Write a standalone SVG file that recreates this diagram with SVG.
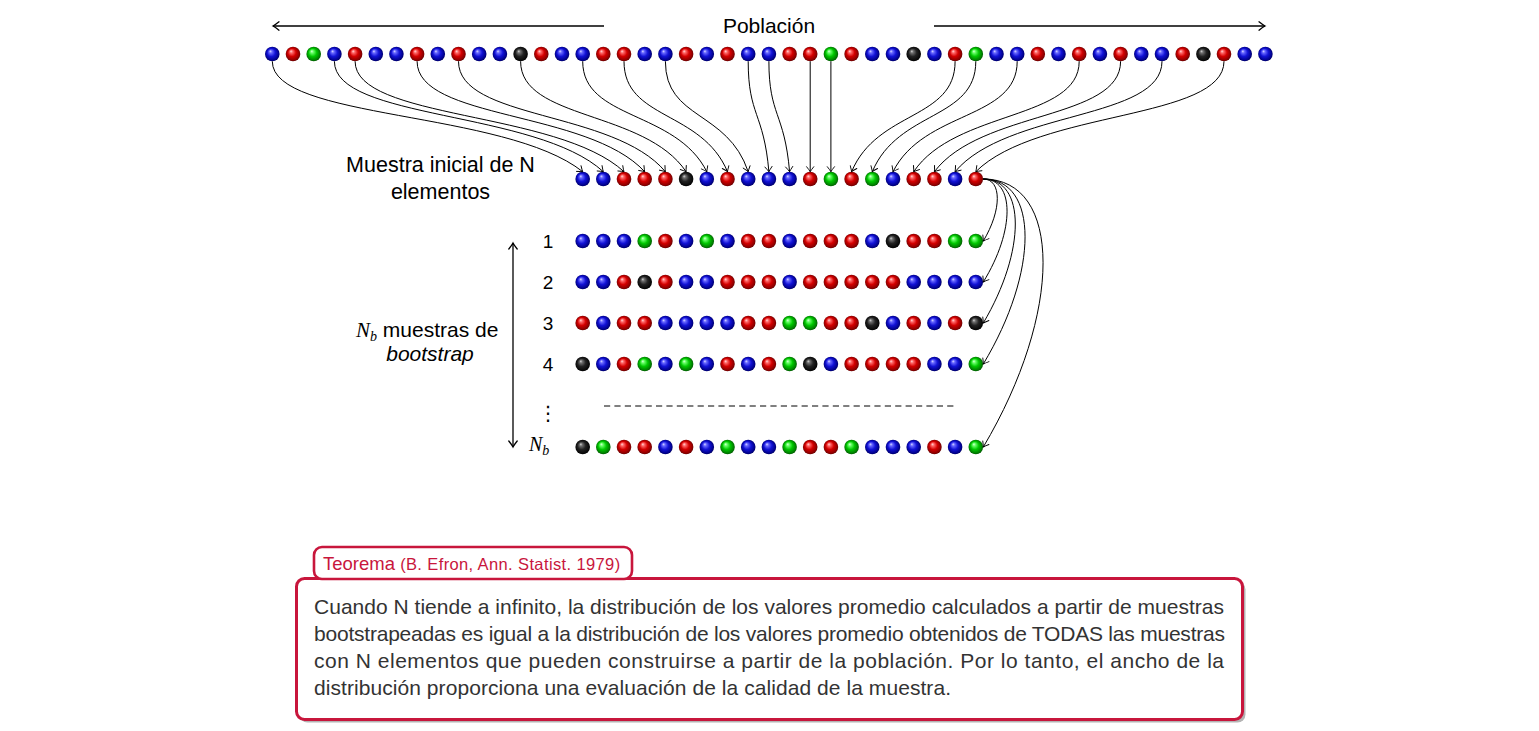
<svg xmlns="http://www.w3.org/2000/svg" width="1539" height="731" viewBox="0 0 1539 731">
<defs>
<radialGradient id="gb" cx="0.5" cy="0.5" r="0.55" fx="0.36" fy="0.3"><stop offset="0" stop-color="#e0e0ff"/><stop offset="0.18" stop-color="#6a6aff"/><stop offset="0.5" stop-color="#1212d6"/><stop offset="0.85" stop-color="#000088"/><stop offset="1" stop-color="#000040"/></radialGradient>
<radialGradient id="gr" cx="0.5" cy="0.5" r="0.55" fx="0.36" fy="0.3"><stop offset="0" stop-color="#ffe0e0"/><stop offset="0.18" stop-color="#ff6a6a"/><stop offset="0.5" stop-color="#d40000"/><stop offset="0.85" stop-color="#880000"/><stop offset="1" stop-color="#400000"/></radialGradient>
<radialGradient id="gg" cx="0.5" cy="0.5" r="0.55" fx="0.36" fy="0.3"><stop offset="0" stop-color="#e0ffe0"/><stop offset="0.18" stop-color="#6aff6a"/><stop offset="0.5" stop-color="#00c800"/><stop offset="0.85" stop-color="#007800"/><stop offset="1" stop-color="#003c00"/></radialGradient>
<radialGradient id="gk" cx="0.5" cy="0.5" r="0.55" fx="0.36" fy="0.3"><stop offset="0" stop-color="#d8d8d8"/><stop offset="0.18" stop-color="#707070"/><stop offset="0.5" stop-color="#222222"/><stop offset="0.85" stop-color="#080808"/><stop offset="1" stop-color="#000000"/></radialGradient>
<marker id="ah" viewBox="-7 -5 8 10" refX="0" refY="0" markerWidth="8" markerHeight="10" markerUnits="userSpaceOnUse" orient="auto-start-reverse" overflow="visible"><path d="M-5,-3.6 Q-1.6,-0.9 0,0 Q-1.6,0.9 -5,3.6" fill="none" stroke="#000" stroke-width="0.9" stroke-linecap="round"/></marker>
<marker id="ahb" viewBox="-8 -6 9 12" refX="0" refY="0" markerWidth="9" markerHeight="12" markerUnits="userSpaceOnUse" orient="auto-start-reverse" overflow="visible"><path d="M-6,-4.2 Q-2,-1 0,0 Q-2,1 -6,4.2" fill="none" stroke="#000" stroke-width="1.3" stroke-linecap="round"/></marker>
<style>
.b{fill:url(#gb)} .r{fill:url(#gr)} .g{fill:url(#gg)} .k{fill:url(#gk)}
.t{font-family:"Liberation Sans",Arial,sans-serif;fill:#000}
.m{font-family:"Liberation Serif","Times New Roman",serif;font-style:italic}
.c{fill:none;stroke:#000;stroke-width:1;marker-end:url(#ah)}
.body{font-family:"Liberation Sans",Arial,sans-serif;font-size:21px;fill:#333}
.red{fill:#c8163c}
</style>
</defs>
<rect width="1539" height="731" fill="#fff"/>

<g id="poblacion-label">
<text class="t" x="769" y="33" font-size="21" text-anchor="middle">Población</text>
<path d="M604,26 L273,26" fill="none" stroke="#000" stroke-width="1.3" marker-end="url(#ahb)"/>
<path d="M934,26 L1265,26" fill="none" stroke="#000" stroke-width="1.3" marker-end="url(#ahb)"/>
</g>

<g id="population">
<circle id="p0" class="b" cx="272.3" cy="54" r="7.3"/>
<circle id="p1" class="r" cx="293.0" cy="54" r="7.3"/>
<circle id="p2" class="g" cx="313.7" cy="54" r="7.3"/>
<circle id="p3" class="b" cx="334.4" cy="54" r="7.3"/>
<circle id="p4" class="r" cx="355.1" cy="54" r="7.3"/>
<circle id="p5" class="b" cx="375.8" cy="54" r="7.3"/>
<circle id="p6" class="b" cx="396.4" cy="54" r="7.3"/>
<circle id="p7" class="r" cx="417.1" cy="54" r="7.3"/>
<circle id="p8" class="b" cx="437.8" cy="54" r="7.3"/>
<circle id="p9" class="r" cx="458.5" cy="54" r="7.3"/>
<circle id="p10" class="b" cx="479.2" cy="54" r="7.3"/>
<circle id="p11" class="b" cx="499.9" cy="54" r="7.3"/>
<circle id="p12" class="k" cx="520.6" cy="54" r="7.3"/>
<circle id="p13" class="r" cx="541.3" cy="54" r="7.3"/>
<circle id="p14" class="b" cx="562.0" cy="54" r="7.3"/>
<circle id="p15" class="b" cx="582.7" cy="54" r="7.3"/>
<circle id="p16" class="r" cx="603.3" cy="54" r="7.3"/>
<circle id="p17" class="r" cx="624.0" cy="54" r="7.3"/>
<circle id="p18" class="b" cx="644.7" cy="54" r="7.3"/>
<circle id="p19" class="b" cx="665.4" cy="54" r="7.3"/>
<circle id="p20" class="r" cx="686.1" cy="54" r="7.3"/>
<circle id="p21" class="b" cx="706.8" cy="54" r="7.3"/>
<circle id="p22" class="r" cx="727.5" cy="54" r="7.3"/>
<circle id="p23" class="b" cx="748.2" cy="54" r="7.3"/>
<circle id="p24" class="b" cx="768.9" cy="54" r="7.3"/>
<circle id="p25" class="r" cx="789.6" cy="54" r="7.3"/>
<circle id="p26" class="r" cx="810.2" cy="54" r="7.3"/>
<circle id="p27" class="g" cx="830.9" cy="54" r="7.3"/>
<circle id="p28" class="r" cx="851.6" cy="54" r="7.3"/>
<circle id="p29" class="b" cx="872.3" cy="54" r="7.3"/>
<circle id="p30" class="b" cx="893.0" cy="54" r="7.3"/>
<circle id="p31" class="k" cx="913.7" cy="54" r="7.3"/>
<circle id="p32" class="b" cx="934.4" cy="54" r="7.3"/>
<circle id="p33" class="r" cx="955.1" cy="54" r="7.3"/>
<circle id="p34" class="g" cx="975.8" cy="54" r="7.3"/>
<circle id="p35" class="b" cx="996.5" cy="54" r="7.3"/>
<circle id="p36" class="b" cx="1017.2" cy="54" r="7.3"/>
<circle id="p37" class="r" cx="1037.8" cy="54" r="7.3"/>
<circle id="p38" class="b" cx="1058.5" cy="54" r="7.3"/>
<circle id="p39" class="r" cx="1079.2" cy="54" r="7.3"/>
<circle id="p40" class="b" cx="1099.9" cy="54" r="7.3"/>
<circle id="p41" class="r" cx="1120.6" cy="54" r="7.3"/>
<circle id="p42" class="b" cx="1141.3" cy="54" r="7.3"/>
<circle id="p43" class="b" cx="1162.0" cy="54" r="7.3"/>
<circle id="p44" class="r" cx="1182.7" cy="54" r="7.3"/>
<circle id="p45" class="k" cx="1203.4" cy="54" r="7.3"/>
<circle id="p46" class="r" cx="1224.0" cy="54" r="7.3"/>
<circle id="p47" class="b" cx="1244.7" cy="54" r="7.3"/>
<circle id="p48" class="b" cx="1265.4" cy="54" r="7.3"/>
</g>

<g id="sample">
<text class="t" x="440.5" y="172" font-size="21.5" text-anchor="middle">Muestra inicial de N</text>
<text class="t" x="440.5" y="199" font-size="21.5" text-anchor="middle">elementos</text>
<circle id="s0" class="b" cx="582.7" cy="179" r="7.3"/>
<circle id="s1" class="b" cx="603.3" cy="179" r="7.3"/>
<circle id="s2" class="r" cx="624.0" cy="179" r="7.3"/>
<circle id="s3" class="r" cx="644.7" cy="179" r="7.3"/>
<circle id="s4" class="r" cx="665.4" cy="179" r="7.3"/>
<circle id="s5" class="k" cx="686.1" cy="179" r="7.3"/>
<circle id="s6" class="b" cx="706.8" cy="179" r="7.3"/>
<circle id="s7" class="r" cx="727.5" cy="179" r="7.3"/>
<circle id="s8" class="b" cx="748.2" cy="179" r="7.3"/>
<circle id="s9" class="b" cx="768.9" cy="179" r="7.3"/>
<circle id="s10" class="b" cx="789.6" cy="179" r="7.3"/>
<circle id="s11" class="r" cx="810.2" cy="179" r="7.3"/>
<circle id="s12" class="g" cx="830.9" cy="179" r="7.3"/>
<circle id="s13" class="r" cx="851.6" cy="179" r="7.3"/>
<circle id="s14" class="g" cx="872.3" cy="179" r="7.3"/>
<circle id="s15" class="b" cx="893.0" cy="179" r="7.3"/>
<circle id="s16" class="r" cx="913.7" cy="179" r="7.3"/>
<circle id="s17" class="r" cx="934.4" cy="179" r="7.3"/>
<circle id="s18" class="b" cx="955.1" cy="179" r="7.3"/>
<circle id="s19" class="r" cx="975.8" cy="179" r="7.3"/>
</g>

<g id="bootstrap-label">
<text class="t" x="356" y="337" font-size="21"><tspan class="m">N</tspan><tspan class="m" font-size="14" dy="4">b</tspan><tspan dy="-4"> muestras de</tspan></text>
<text class="t" x="430" y="361" font-size="21" font-style="italic" text-anchor="middle">bootstrap</text>
<path d="M513,243 L513,447" fill="none" stroke="#000" stroke-width="1.3" marker-start="url(#ahb)" marker-end="url(#ahb)"/>
</g>

<g id="row1">
<text class="t" x="548" y="248" font-size="19" text-anchor="middle">1</text>
<circle class="b" cx="582.7" cy="241" r="7.3"/><circle class="b" cx="603.3" cy="241" r="7.3"/><circle class="b" cx="624.0" cy="241" r="7.3"/><circle class="g" cx="644.7" cy="241" r="7.3"/><circle class="r" cx="665.4" cy="241" r="7.3"/><circle class="b" cx="686.1" cy="241" r="7.3"/><circle class="g" cx="706.8" cy="241" r="7.3"/><circle class="b" cx="727.5" cy="241" r="7.3"/><circle class="r" cx="748.2" cy="241" r="7.3"/><circle class="r" cx="768.9" cy="241" r="7.3"/><circle class="b" cx="789.6" cy="241" r="7.3"/><circle class="r" cx="810.2" cy="241" r="7.3"/><circle class="r" cx="830.9" cy="241" r="7.3"/><circle class="r" cx="851.6" cy="241" r="7.3"/><circle class="b" cx="872.3" cy="241" r="7.3"/><circle class="k" cx="893.0" cy="241" r="7.3"/><circle class="r" cx="913.7" cy="241" r="7.3"/><circle class="r" cx="934.4" cy="241" r="7.3"/><circle class="g" cx="955.1" cy="241" r="7.3"/><circle class="g" cx="975.8" cy="241" r="7.3"/>
</g>
<g id="row2">
<text class="t" x="548" y="289" font-size="19" text-anchor="middle">2</text>
<circle class="b" cx="582.7" cy="282" r="7.3"/><circle class="b" cx="603.3" cy="282" r="7.3"/><circle class="r" cx="624.0" cy="282" r="7.3"/><circle class="k" cx="644.7" cy="282" r="7.3"/><circle class="r" cx="665.4" cy="282" r="7.3"/><circle class="b" cx="686.1" cy="282" r="7.3"/><circle class="b" cx="706.8" cy="282" r="7.3"/><circle class="r" cx="727.5" cy="282" r="7.3"/><circle class="r" cx="748.2" cy="282" r="7.3"/><circle class="r" cx="768.9" cy="282" r="7.3"/><circle class="b" cx="789.6" cy="282" r="7.3"/><circle class="r" cx="810.2" cy="282" r="7.3"/><circle class="r" cx="830.9" cy="282" r="7.3"/><circle class="r" cx="851.6" cy="282" r="7.3"/><circle class="r" cx="872.3" cy="282" r="7.3"/><circle class="r" cx="893.0" cy="282" r="7.3"/><circle class="b" cx="913.7" cy="282" r="7.3"/><circle class="b" cx="934.4" cy="282" r="7.3"/><circle class="b" cx="955.1" cy="282" r="7.3"/><circle class="b" cx="975.8" cy="282" r="7.3"/>
</g>
<g id="row3">
<text class="t" x="548" y="330" font-size="19" text-anchor="middle">3</text>
<circle class="r" cx="582.7" cy="323" r="7.3"/><circle class="b" cx="603.3" cy="323" r="7.3"/><circle class="r" cx="624.0" cy="323" r="7.3"/><circle class="r" cx="644.7" cy="323" r="7.3"/><circle class="b" cx="665.4" cy="323" r="7.3"/><circle class="b" cx="686.1" cy="323" r="7.3"/><circle class="b" cx="706.8" cy="323" r="7.3"/><circle class="b" cx="727.5" cy="323" r="7.3"/><circle class="r" cx="748.2" cy="323" r="7.3"/><circle class="r" cx="768.9" cy="323" r="7.3"/><circle class="g" cx="789.6" cy="323" r="7.3"/><circle class="g" cx="810.2" cy="323" r="7.3"/><circle class="r" cx="830.9" cy="323" r="7.3"/><circle class="r" cx="851.6" cy="323" r="7.3"/><circle class="k" cx="872.3" cy="323" r="7.3"/><circle class="b" cx="893.0" cy="323" r="7.3"/><circle class="r" cx="913.7" cy="323" r="7.3"/><circle class="b" cx="934.4" cy="323" r="7.3"/><circle class="r" cx="955.1" cy="323" r="7.3"/><circle class="k" cx="975.8" cy="323" r="7.3"/>
</g>
<g id="row4">
<text class="t" x="548" y="371" font-size="19" text-anchor="middle">4</text>
<circle class="k" cx="582.7" cy="364" r="7.3"/><circle class="b" cx="603.3" cy="364" r="7.3"/><circle class="r" cx="624.0" cy="364" r="7.3"/><circle class="g" cx="644.7" cy="364" r="7.3"/><circle class="b" cx="665.4" cy="364" r="7.3"/><circle class="g" cx="686.1" cy="364" r="7.3"/><circle class="b" cx="706.8" cy="364" r="7.3"/><circle class="r" cx="727.5" cy="364" r="7.3"/><circle class="b" cx="748.2" cy="364" r="7.3"/><circle class="r" cx="768.9" cy="364" r="7.3"/><circle class="g" cx="789.6" cy="364" r="7.3"/><circle class="k" cx="810.2" cy="364" r="7.3"/><circle class="b" cx="830.9" cy="364" r="7.3"/><circle class="r" cx="851.6" cy="364" r="7.3"/><circle class="r" cx="872.3" cy="364" r="7.3"/><circle class="r" cx="893.0" cy="364" r="7.3"/><circle class="r" cx="913.7" cy="364" r="7.3"/><circle class="b" cx="934.4" cy="364" r="7.3"/><circle class="b" cx="955.1" cy="364" r="7.3"/><circle class="g" cx="975.8" cy="364" r="7.3"/>
</g>
<g id="row-dots">
<text x="548" y="420" font-family="DejaVu Sans,sans-serif" font-size="20" text-anchor="middle">⋮</text>
<path d="M604,406 L955,406" fill="none" stroke="#000" stroke-width="1" stroke-dasharray="6.2 4.2"/>
</g>
<g id="rowNb">
<text x="529" y="451" font-size="20"><tspan class="m">N</tspan><tspan class="m" font-size="14" dy="4">b</tspan></text>
<circle class="k" cx="582.7" cy="447" r="7.3"/><circle class="g" cx="603.3" cy="447" r="7.3"/><circle class="r" cx="624.0" cy="447" r="7.3"/><circle class="r" cx="644.7" cy="447" r="7.3"/><circle class="b" cx="665.4" cy="447" r="7.3"/><circle class="r" cx="686.1" cy="447" r="7.3"/><circle class="b" cx="706.8" cy="447" r="7.3"/><circle class="g" cx="727.5" cy="447" r="7.3"/><circle class="b" cx="748.2" cy="447" r="7.3"/><circle class="b" cx="768.9" cy="447" r="7.3"/><circle class="g" cx="789.6" cy="447" r="7.3"/><circle class="r" cx="810.2" cy="447" r="7.3"/><circle class="r" cx="830.9" cy="447" r="7.3"/><circle class="g" cx="851.6" cy="447" r="7.3"/><circle class="b" cx="872.3" cy="447" r="7.3"/><circle class="b" cx="893.0" cy="447" r="7.3"/><circle class="b" cx="913.7" cy="447" r="7.3"/><circle class="r" cx="934.4" cy="447" r="7.3"/><circle class="b" cx="955.1" cy="447" r="7.3"/><circle class="g" cx="975.8" cy="447" r="7.3"/>
</g>

<g id="connectors">
<path class="c" d="M272.3,61.3 C272.3,120 505.1,110 582.7,171.7"/>
<path class="c" d="M334.4,61.3 C334.4,120 536.1,110 603.3,171.7"/>
<path class="c" d="M355.1,61.3 C355.1,120 556.8,110 624.0,171.7"/>
<path class="c" d="M417.1,61.3 C417.1,120 587.8,110 644.7,171.7"/>
<path class="c" d="M458.5,61.3 C458.5,120 613.7,110 665.4,171.7"/>
<path class="c" d="M520.6,61.3 C520.6,120 644.7,110 686.1,171.7"/>
<path class="c" d="M582.7,61.3 C582.7,120 675.8,110 706.8,171.7"/>
<path class="c" d="M624.0,61.3 C624.0,120 701.6,110 727.5,171.7"/>
<path class="c" d="M665.4,61.3 C665.4,120 727.5,110 748.2,171.7"/>
<path class="c" d="M748.2,61.3 C748.2,116 763.7,112 768.9,171.7"/>
<path class="c" d="M768.9,61.3 C768.9,116 784.4,112 789.6,171.7"/>
<path class="c" d="M810.2,61.3 L810.2,171.7"/>
<path class="c" d="M830.9,61.3 L830.9,171.7"/>
<path class="c" d="M955.1,61.3 C955.1,120 877.5,110 851.6,171.7"/>
<path class="c" d="M975.8,61.3 C975.8,120 898.2,110 872.3,171.7"/>
<path class="c" d="M1017.2,61.3 C1017.2,120 924.0,110 893.0,171.7"/>
<path class="c" d="M1079.2,61.3 C1079.2,120 955.1,110 913.7,171.7"/>
<path class="c" d="M1120.6,61.3 C1120.6,120 980.9,110 934.4,171.7"/>
<path class="c" d="M1162.0,61.3 C1162.0,120 1006.8,110 955.1,171.7"/>
<path class="c" d="M1224.0,61.3 C1224.0,120 1037.8,110 975.8,171.7"/>
<path class="c" d="M983.1,179 C1002,179 1002,210 983.3,241"/>
<path class="c" d="M983.1,179 C1015,179 1015,230.5 983.3,282"/>
<path class="c" d="M983.1,179 C1026,179 1026,251 983.3,323"/>
<path class="c" d="M983.1,179 C1039,179 1039,271.5 983.3,364"/>
<path class="c" d="M983.1,179 C1063,179 1063,313 983.3,447"/>
</g>

<g id="theorem">
<rect x="299.5" y="581.5" width="946" height="141" rx="8" fill="#b4b4b4"/>
<rect x="296.5" y="578.5" width="946" height="141" rx="8" fill="#fff" stroke="#c8163c" stroke-width="3"/>
<rect x="314" y="547" width="318" height="32" rx="8" fill="#fff" stroke="#c8163c" stroke-width="2.6"/>
<text x="323" y="570" font-family="Liberation Sans,Arial,sans-serif" class="red" font-size="18.5">Teorema <tspan font-size="16.5" textLength="220" lengthAdjust="spacing">(B. Efron, Ann. Statist. 1979)</tspan></text>
<text class="body" x="314" y="613.5" textLength="910" lengthAdjust="spacing">Cuando N tiende a infinito, la distribución de los valores promedio calculados a partir de muestras</text>
<text class="body" x="314" y="640.8" textLength="911" lengthAdjust="spacing">bootstrapeadas es igual a la distribución de los valores promedio obtenidos de TODAS las muestras</text>
<text class="body" x="314" y="668.1" textLength="910" lengthAdjust="spacing">con N elementos que pueden construirse a partir de la población. Por lo tanto, el ancho de la</text>
<text class="body" x="314" y="695.4" textLength="637" lengthAdjust="spacing">distribución proporciona una evaluación de la calidad de la muestra.</text>
</g>
</svg>
